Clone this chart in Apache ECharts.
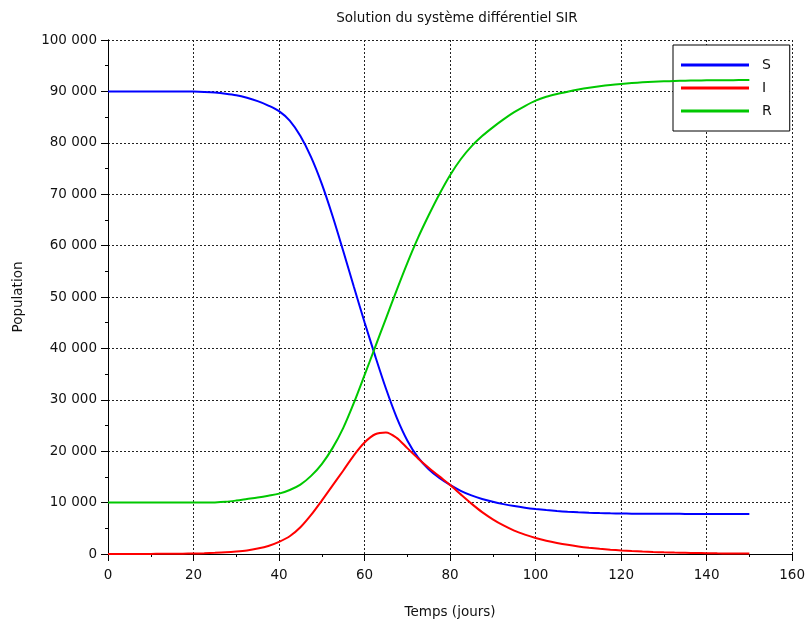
<!DOCTYPE html>
<html>
<head>
<meta charset="utf-8">
<title>Solution du système différentiel SIR</title>
<script src="https://cdn.jsdelivr.net/npm/echarts@6/dist/echarts.min.js"></script>
<style>
  html, body { margin: 0; padding: 0; background: #fff; }
  #chart { width: 808px; height: 624px; }
</style>
</head>
<body>
<div id="chart"></div>
<script>
/* SIR model solution: S, I, R populations over time (days). */
(function (window, document) {
  "use strict";

  const days = [0, 2.5, 5, 7.5, 10, 12.5, 15, 17.5, 20, 22.5, 25, 27.5, 30, 32.5, 35, 37.5, 40,
    42.5, 45, 47.5, 50, 52.5, 55, 57.5, 60, 62.5, 65, 67.5, 70, 72.5, 75, 77.5, 80,
    82.5, 85, 87.5, 90, 92.5, 95, 97.5, 100, 102.5, 105, 107.5, 110, 112.5, 115, 117.5, 120,
    122.5, 125, 127.5, 130, 132.5, 135, 137.5, 140, 142.5, 145, 147.5, 150];
  const susceptible = [90000, 90000, 90000, 90000, 90000, 90000, 90000, 89990, 89970, 89900, 89780,
    89560, 89250, 88750, 88100, 87250, 86150,
    84300, 81300, 77200, 72000, 65800, 59000, 52000, 45100, 38500, 32200, 26600, 22100, 18800, 16500,
    14800, 13450,
    12300, 11400, 10700, 10150, 9700, 9330, 9020, 8760, 8540, 8360, 8220, 8110, 8020, 7960, 7910, 7875,
    7850, 7835, 7825, 7815, 7810, 7805, 7800, 7800, 7800, 7800, 7800, 7800];
  const infected = [5, 7, 10, 14, 20, 30, 45, 65, 100, 145, 220, 320, 480, 700, 1050, 1550, 2350,
    3450, 5200, 7600, 10400, 13300, 16200, 19200, 21700, 23300, 23650, 22600, 20600, 18600, 16800,
    15100, 13450,
    11600, 9800, 8150, 6750, 5550, 4550, 3780, 3120, 2590, 2150, 1780, 1480, 1230, 1020, 850, 700,
    580, 480, 400, 330, 275, 230, 190, 160, 130, 110, 90, 75];
  const recovered = [10000, 10000, 10000, 10000, 10000, 10000, 10000, 10000, 10000, 10010, 10030,
    10150, 10400, 10700, 11000, 11350, 11750,
    12450, 13500, 15200, 17500, 20600, 24500, 29400, 34800, 40300, 45800, 51300, 56600, 61500, 65900,
    70000, 73700,
    76800, 79300, 81300, 83000, 84550, 85950, 87150, 88200, 88950, 89500, 89950, 90350, 90700, 91000,
    91250, 91450, 91620, 91760, 91870, 91960, 92030, 92080, 92120, 92150, 92170, 92185, 92195, 92200];
  const seriesNames = ["S", "I", "R"];
  const seriesColors = ["#0000ff", "#ff0000", "#00c800"];

  const ink = "#111";
  const font = "'DejaVu Sans', sans-serif";

  function pairs(values) {
    return days.map(function (d, i) { return [d, values[i]]; });
  }

  function spaced(v) {
    return String(v).replace(/\B(?=(\d{3})+(?!\d))/g, " ");
  }

  const frameAxis = {
    axisLine: { show: true, lineStyle: { color: "#000", width: 1 } },
    axisLabel: { show: false },
    axisTick: { show: true, inside: true, length: 4, lineStyle: { color: "#000" } },
    minorTick: { show: true, splitNumber: 2, length: 2, lineStyle: { color: "#000" } },
    splitLine: { show: false },
  };

  const chart = echarts.init(document.getElementById("chart"), null, { renderer: "canvas" });
  chart.setOption({
    animation: false,
    backgroundColor: "#fff",
    title: {
      text: "Solution du système différentiel SIR",
      left: 452, top: 6, textAlign: "center",
      textStyle: { color: ink, fontFamily: font, fontSize: 13.5, fontWeight: "normal" },
    },
    grid: { left: 108, right: 12, top: 40, bottom: 66, containLabel: false },
    legend: {
      orient: "vertical",
      left: 673, top: 45,
      icon: "rect", itemWidth: 68, itemHeight: 3, itemGap: 9,
      padding: [13, 18, 13, 8],
      backgroundColor: "#fff",
      borderColor: "#000", borderWidth: 1,
      textStyle: { color: ink, fontFamily: font, fontSize: 14, padding: [0, 0, 0, 8] },
      data: seriesNames,
    },
    xAxis: [
      {
        type: "value", min: 0, max: 160, interval: 20,
        name: "Temps (jours)", nameLocation: "middle", nameGap: 51,
        nameTextStyle: { color: ink, fontFamily: font, fontSize: 13.5 },
        axisLine: { show: true, onZero: false, lineStyle: { color: "#000", width: 1 } },
        axisTick: { show: true, length: 7, lineStyle: { color: "#000" } },
        minorTick: { show: true, splitNumber: 2, length: 3, lineStyle: { color: "#000" } },
        axisLabel: { color: ink, fontFamily: font, fontSize: 13.5, margin: 14 },
        splitLine: { show: true, lineStyle: { color: "#222", width: 1, type: [2, 2] } },
      },
      Object.assign({ type: "value", position: "top", min: 0, max: 160, interval: 20 }, frameAxis),
    ],
    yAxis: [
      {
        type: "value", min: 0, max: 100000, interval: 10000,
        name: "Population", nameLocation: "middle", nameGap: 83, nameRotate: 90,
        nameTextStyle: { color: ink, fontFamily: font, fontSize: 13.5 },
        axisLine: { show: true, onZero: false, lineStyle: { color: "#000", width: 1 } },
        axisTick: { show: true, length: 7, lineStyle: { color: "#000" } },
        minorTick: { show: true, splitNumber: 2, length: 3, lineStyle: { color: "#000" } },
        axisLabel: { color: ink, fontFamily: font, fontSize: 13.5, margin: 11, formatter: spaced },
        splitLine: { show: true, lineStyle: { color: "#222", width: 1, type: [2, 2] } },
      },
      Object.assign({ type: "value", position: "right", min: 0, max: 100000, interval: 10000 }, frameAxis),
    ],
    series: [susceptible, infected, recovered].map(function (values, i) {
      return {
        name: seriesNames[i], type: "line", data: pairs(values),
        smooth: 0.3, showSymbol: false, symbol: "none",
        lineStyle: { color: seriesColors[i], width: 2 },
        itemStyle: { color: seriesColors[i] },
        z: 3 + i,
      };
    }),
  });
})(window, document);
</script>
</body>
</html>
